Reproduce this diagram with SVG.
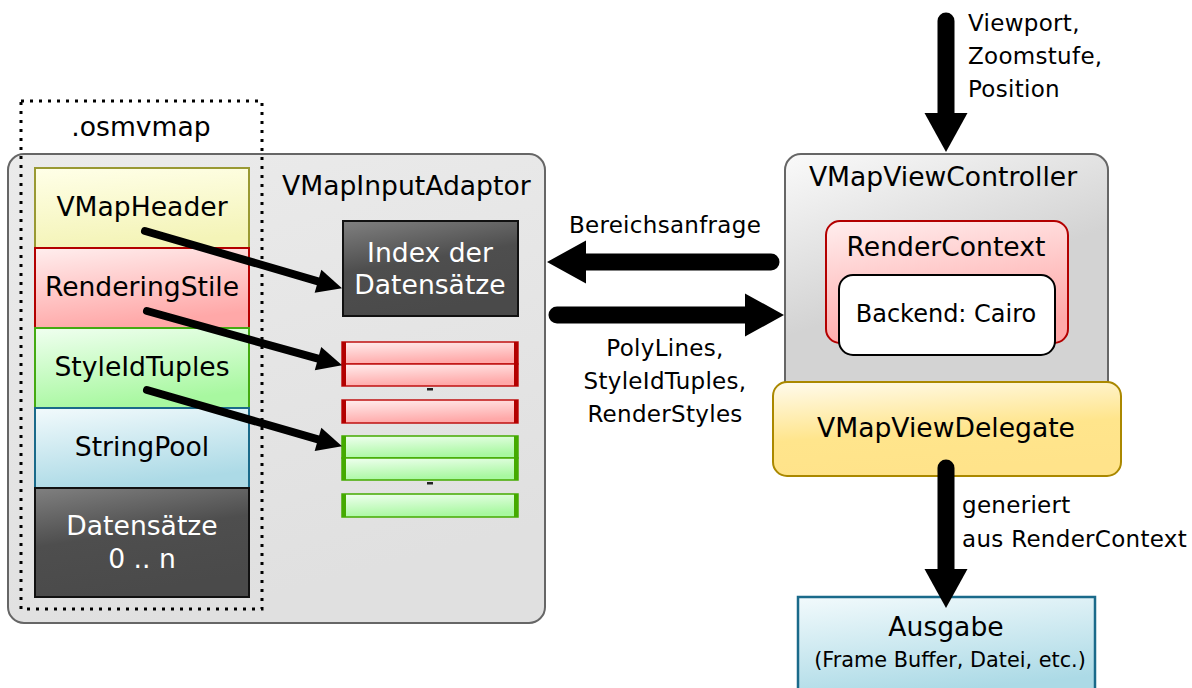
<svg xmlns="http://www.w3.org/2000/svg" width="1192" height="688" viewBox="0 0 1192 688">
<defs>
<style>
text{font-family:"DejaVu Sans","Verdana",sans-serif;fill:#000}
.t26{font-size:26.6px;text-anchor:middle}
.t22{font-size:23px;letter-spacing:0.3px}
.w{fill:#fff}
.thin{stroke:#000;stroke-width:8;stroke-linecap:round;fill:none}
.thick{stroke:#000;stroke-width:17;stroke-linecap:round;fill:none}
</style>
<linearGradient id="gGray" x1="0" y1="0" x2="0.3" y2="1"><stop offset="0" stop-color="#ebebeb"/><stop offset="1" stop-color="#e0e0e0"/></linearGradient>
<linearGradient id="gCtrl" x1="0" y1="0" x2="0.25" y2="0.6"><stop offset="0" stop-color="#fafafa"/><stop offset="1" stop-color="#d3d3d3"/></linearGradient>
<linearGradient id="gYel" x1="0" y1="0" x2="0.2" y2="1"><stop offset="0" stop-color="#ffffe8"/><stop offset="1" stop-color="#f4f4b8"/></linearGradient>
<linearGradient id="gRed" x1="0" y1="0" x2="0.3" y2="1"><stop offset="0" stop-color="#ffeeee"/><stop offset="1" stop-color="#ffa8a8"/></linearGradient>
<linearGradient id="gGreen" x1="0" y1="0" x2="0.3" y2="1"><stop offset="0" stop-color="#f0fff0"/><stop offset="1" stop-color="#a8f8a0"/></linearGradient>
<linearGradient id="gBlue" x1="0" y1="0" x2="0.3" y2="1"><stop offset="0" stop-color="#f2fafc"/><stop offset="1" stop-color="#acdae6"/></linearGradient>
<linearGradient id="gDark" x1="0" y1="0" x2="0.3" y2="1"><stop offset="0" stop-color="#808080"/><stop offset="0.5" stop-color="#4e4e4e"/><stop offset="1" stop-color="#4a4a4a"/></linearGradient>
<linearGradient id="gDeleg" x1="0" y1="0" x2="0.25" y2="1"><stop offset="0" stop-color="#fffbee"/><stop offset="0.6" stop-color="#ffe58c"/><stop offset="1" stop-color="#ffe38a"/></linearGradient>
<marker id="hSmall" markerUnits="userSpaceOnUse" markerWidth="26" markerHeight="24" refX="0" refY="12" orient="auto" overflow="visible"><path d="M0,0 L25,12 L0,24 z" fill="#000"/></marker>
<marker id="hBig" markerUnits="userSpaceOnUse" markerWidth="40" markerHeight="44" refX="0" refY="21.5" orient="auto" overflow="visible"><path d="M0,0 L39,21.5 L0,43 z" fill="#000"/></marker>
</defs>
<rect width="1192" height="688" fill="#fff"/>

<g id="adaptor">
<rect x="8" y="154" width="537" height="469" rx="16" fill="url(#gGray)" stroke="#666" stroke-width="2"/>
<text x="282" y="195" class="t26" style="text-anchor:start">VMapInputAdaptor</text>
</g>

<g id="header"><rect x="35" y="168" width="214" height="80" fill="url(#gYel)" stroke="#999933" stroke-width="2"/><text x="142" y="216" class="t26">VMapHeader</text></g>
<g id="stile"><rect x="35" y="248" width="214" height="80" fill="url(#gRed)" stroke="#b30000" stroke-width="2"/><text x="142" y="296" class="t26">RenderingStile</text></g>
<g id="tuples"><rect x="35" y="328" width="214" height="80" fill="url(#gGreen)" stroke="#44aa11" stroke-width="2"/><text x="142" y="376" class="t26">StyleIdTuples</text></g>
<g id="pool"><rect x="35" y="408" width="214" height="80" fill="url(#gBlue)" stroke="#1a6a8a" stroke-width="2"/><text x="142" y="456" class="t26">StringPool</text></g>
<g id="datensaetze"><rect x="35" y="488" width="214" height="109" fill="url(#gDark)" stroke="#111" stroke-width="2"/><text x="142" y="535" class="t26 w">Datensätze</text><text x="142" y="568" class="t26 w">0 .. n</text></g>

<g id="osmvmap">
<rect x="21" y="101" width="241" height="508" fill="none" stroke="#000" stroke-width="3" stroke-dasharray="3,6"/>
<text x="141" y="136" class="t26">.osmvmap</text>
</g>

<g id="index"><rect x="343" y="221" width="175" height="95" fill="url(#gDark)" stroke="#111" stroke-width="2"/><text x="430" y="262" class="t26 w">Index der</text><text x="430" y="294" class="t26 w">Datensätze</text></g>

<g id="redbars">
<rect x="342" y="342" width="176" height="22" fill="url(#gRed)" stroke="#c01010" stroke-width="1.5"/>
<rect x="342" y="364" width="176" height="22" fill="url(#gRed)" stroke="#c01010" stroke-width="1.5"/>
<rect x="342" y="342" width="4" height="44" fill="#b30000"/><rect x="514" y="342" width="4" height="44" fill="#b30000"/>
<rect x="427" y="388" width="6" height="2.5" fill="#222"/>
<rect x="342" y="400" width="176" height="23" fill="url(#gRed)" stroke="#c01010" stroke-width="1.5"/>
<rect x="342" y="400" width="4" height="23" fill="#b30000"/><rect x="514" y="400" width="4" height="23" fill="#b30000"/>
</g>
<g id="greenbars">
<rect x="342" y="436" width="176" height="22" fill="url(#gGreen)" stroke="#44aa00" stroke-width="1.5"/>
<rect x="342" y="458" width="176" height="22" fill="url(#gGreen)" stroke="#44aa00" stroke-width="1.5"/>
<rect x="342" y="436" width="4" height="44" fill="#44aa00"/><rect x="514" y="436" width="4" height="44" fill="#44aa00"/>
<rect x="427" y="482" width="6" height="2.5" fill="#222"/>
<rect x="342" y="494" width="176" height="23" fill="url(#gGreen)" stroke="#44aa00" stroke-width="1.5"/>
<rect x="342" y="494" width="4" height="23" fill="#44aa00"/><rect x="514" y="494" width="4" height="23" fill="#44aa00"/>
</g>

<g id="controller">
<rect x="785" y="154" width="323" height="260" rx="16" fill="url(#gCtrl)" stroke="#666" stroke-width="2"/>
<text x="943" y="186" class="t26">VMapViewController</text>
</g>
<g id="rendercontext">
<rect x="826" y="221" width="242" height="122" rx="14" fill="url(#gRed)" stroke="#b30000" stroke-width="2"/>
<text x="946" y="256" class="t26">RenderContext</text>
</g>
<g id="backend">
<rect x="839" y="275" width="216" height="80" rx="14" fill="#fff" stroke="#000" stroke-width="2"/>
<text x="946" y="322" class="t26" style="font-size:24px">Backend: Cairo</text>
</g>
<g id="delegate">
<rect x="773" y="382" width="348" height="94" rx="14" fill="url(#gDeleg)" stroke="#aa8800" stroke-width="2"/>
<text x="946" y="437" class="t26">VMapViewDelegate</text>
</g>
<g id="ausgabe">
<rect x="798" y="597" width="297" height="100" fill="url(#gBlue)" stroke="#1a6a8a" stroke-width="2.5"/>
<text x="946" y="636" class="t26">Ausgabe</text>
<text x="950" y="667" class="t26" style="font-size:20.8px">(Frame Buffer, Datei, etc.)</text>
</g>

<g id="connectors">
<path class="thin" d="M145,231 L318,281.3" marker-end="url(#hSmall)"/>
<path class="thin" d="M147,311 L318,358.6" marker-end="url(#hSmall)"/>
<path class="thin" d="M147,390 L318,439.4" marker-end="url(#hSmall)"/>
<path class="thick" d="M771,262 L586,262" marker-end="url(#hBig)"/>
<path class="thick" d="M557,315 L745,315" marker-end="url(#hBig)"/>
<path class="thick" d="M946,21 L946,113" marker-end="url(#hBig)"/>
<path class="thick" d="M946,468 L946,569" marker-end="url(#hBig)"/>
</g>

<g id="labels">
<text x="665" y="233" class="t22" text-anchor="middle">Bereichsanfrage</text>
<text x="665" y="356" class="t22" text-anchor="middle">PolyLines,</text>
<text x="665" y="389" class="t22" text-anchor="middle">StyleIdTuples,</text>
<text x="665" y="422" class="t22" text-anchor="middle">RenderStyles</text>
<text x="968" y="31" class="t22">Viewport,</text>
<text x="968" y="64" class="t22">Zoomstufe,</text>
<text x="968" y="97" class="t22">Position</text>
<text x="962" y="513" class="t22">generiert</text>
<text x="962" y="547" class="t22">aus RenderContext</text>
</g>
</svg>
